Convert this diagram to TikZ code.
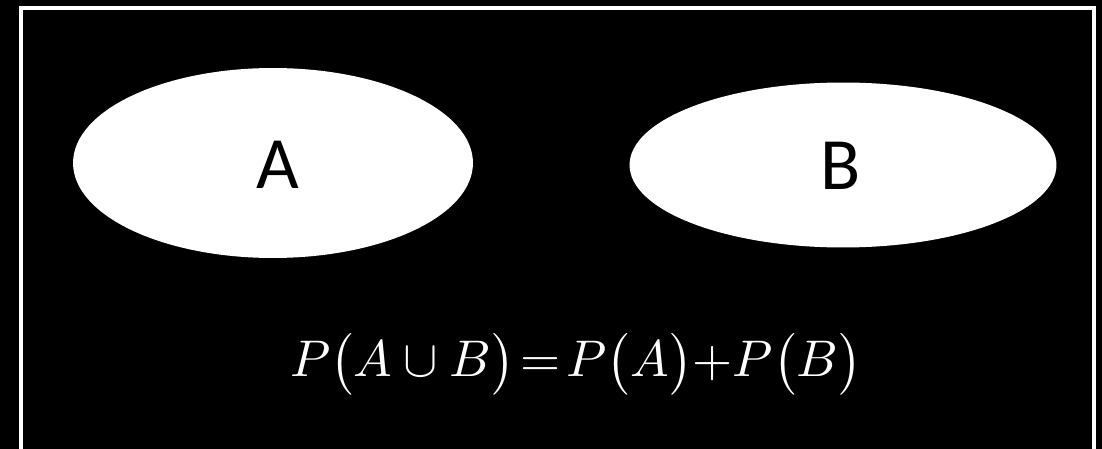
\documentclass[tikz,border=0pt]{standalone}
\usepackage{fontspec}
\usepackage{graphicx}
\newfontfamily\labelfont{Carlito}
\usetikzlibrary{shapes.geometric}

\begin{document}
\begin{tikzpicture}[x=0.02cm,y=-0.02cm]
        \tikzset{setshape/.style={ellipse, fill=white, inner sep=0pt}}
        \tikzset{setlabel/.style={text=black, font=\labelfont\fontsize{42}{48}\selectfont}}
        \fill[black] (0,0) rectangle (1102,449);
        \useasboundingbox (0,0) rectangle (1102,449);
        \begin{scope}
        \clip (0,0) rectangle (1102,449);
        \draw[white, line width=1.8pt] (21,8) rectangle (1094,470);
        \end{scope}
        \node[setshape, minimum width=8cm, minimum height=3.8cm] (setA) at (273,163) {};
        \node[setshape, minimum width=8.54cm, minimum height=3.3cm] (setB) at (843,165) {};
        \node[setlabel] (labA) at (278,165) {A};
        \node[setlabel] (labB) at (841,166) {B};
        \node[text=white, inner sep=0pt] (formula) at (576,364)
          {\resizebox{11.44cm}{!}{$P\bigl(A\cup B\bigr)\mskip2mu{=}\mskip2mu P\bigl(A\bigr){+}P\bigl(B\bigr)$}};
    \end{tikzpicture}
\end{document}
